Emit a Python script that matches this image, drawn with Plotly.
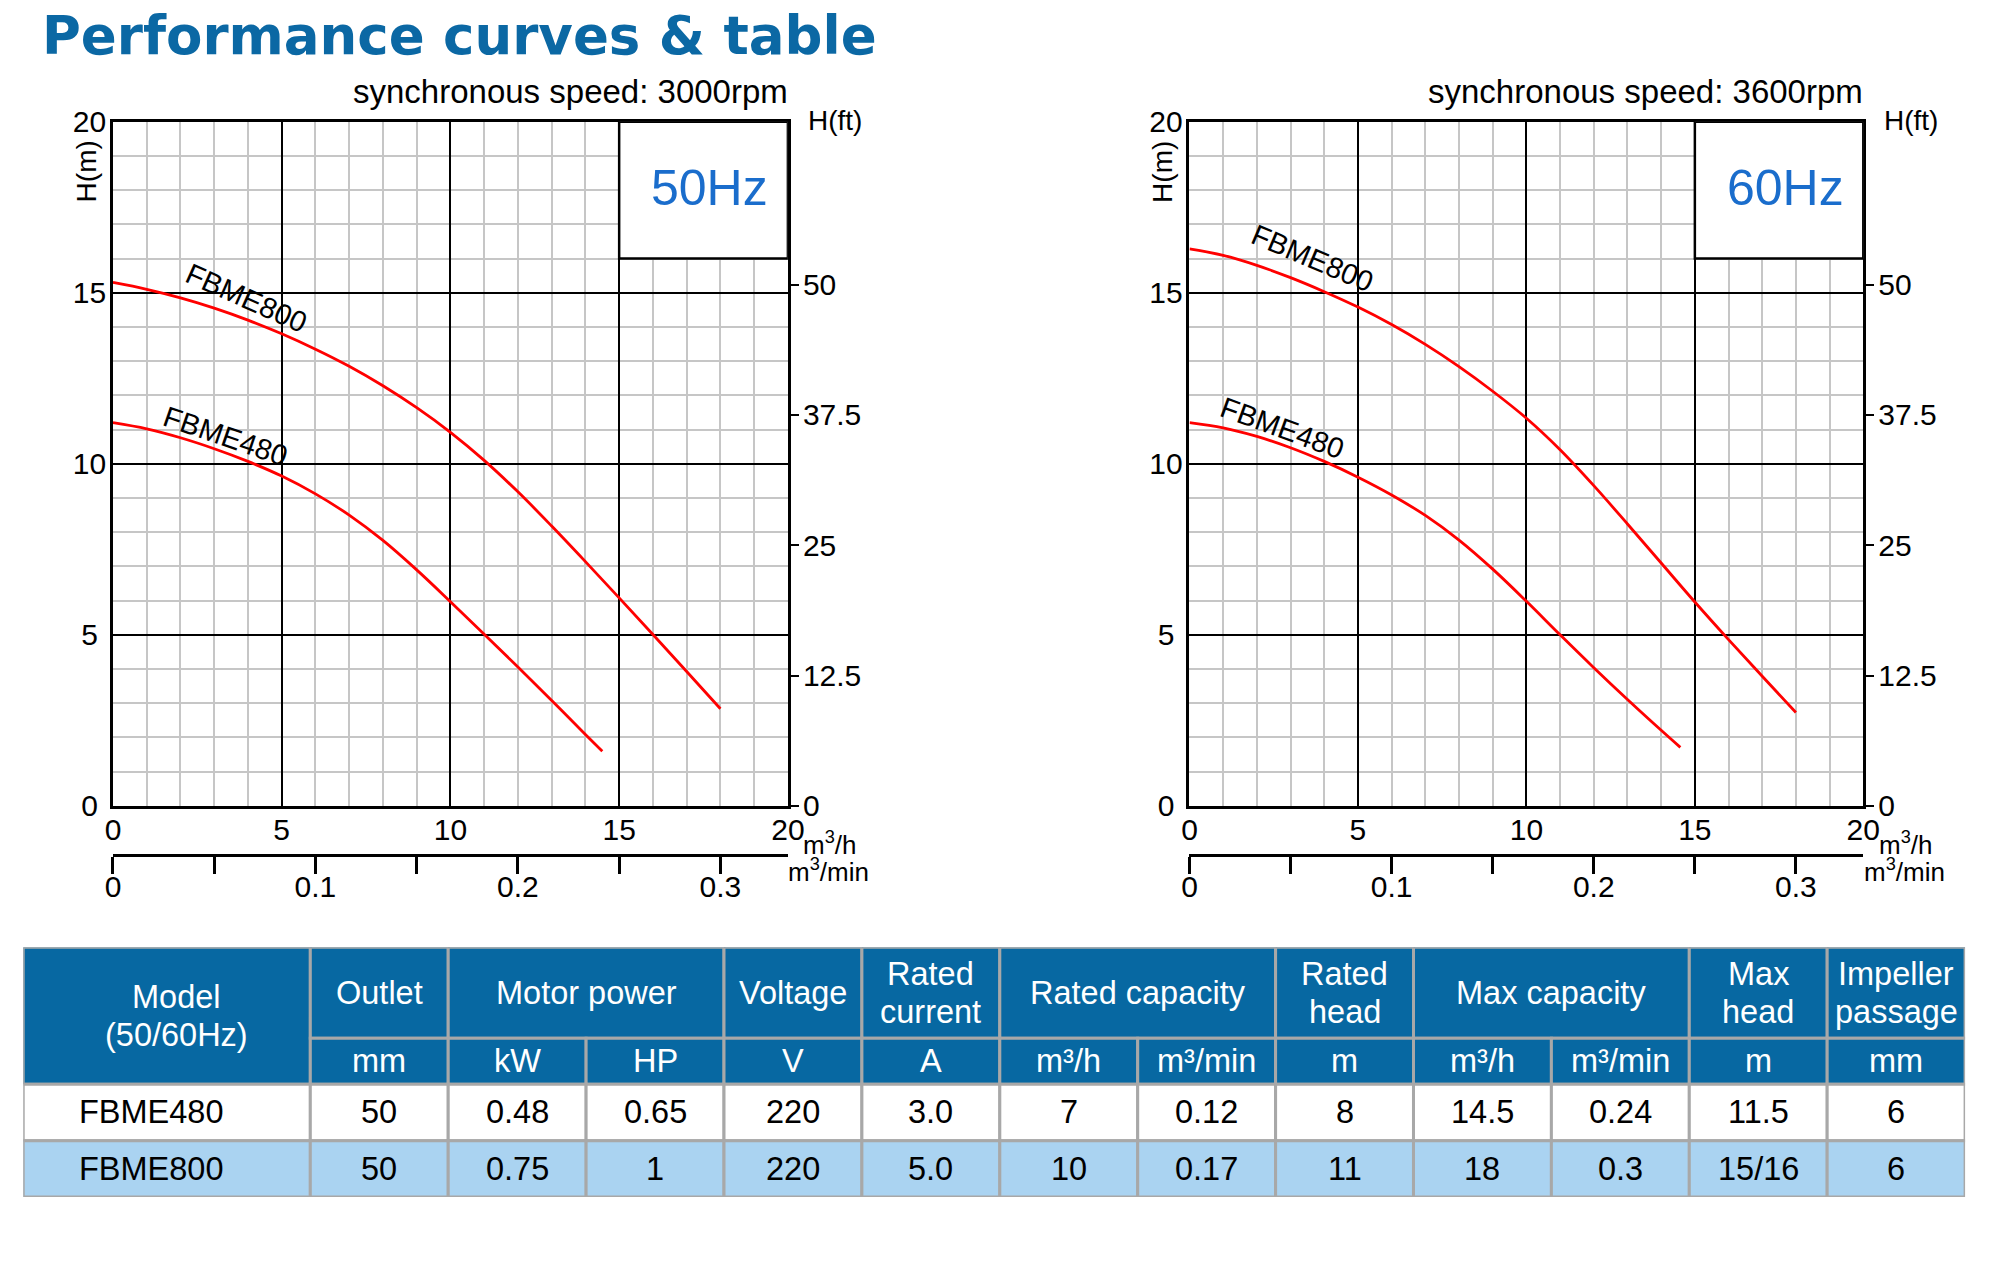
import plotly.graph_objects as go

# the page keeps its 8px body margin, so the figure is 16px smaller than the window
PAGE_W, PAGE_H, M = 1992, 1277, 8
W, H = PAGE_W - 2 * M, PAGE_H - 2 * M
FONT = "Liberation Sans, Arial, sans-serif"
BLUE = "#0b68a4"
RED = "#ff0000"

# ---- pump curves: flow (m3/h) vs head (m) ----
q800_50 = [0, 1, 2, 3, 4, 5, 6, 7, 8, 9, 10, 11, 12, 13, 14, 15, 16, 17, 18]
h800_50 = [15.3, 15.1, 14.85, 14.55, 14.2, 13.8, 13.35, 12.85, 12.28, 11.64,
           10.92, 10.1, 9.18, 8.18, 7.14, 6.08, 5.01, 3.93, 2.84]
q480_50 = [0, 1, 2, 3, 4, 5, 6, 7, 8, 9, 10, 11, 12, 13, 14, 14.5]
h480_50 = [11.2, 11.02, 10.76, 10.44, 10.07, 9.64, 9.12, 8.5, 7.76, 6.9,
           5.97, 5.02, 4.06, 3.08, 2.09, 1.6]
q800_60 = [0, 1, 2, 3, 4, 5, 6, 7, 8, 9, 10, 11, 12, 13, 14, 15, 16, 17, 18]
h800_60 = [16.28, 16.09, 15.8, 15.44, 15.03, 14.58, 14.07, 13.49, 12.84, 12.12,
           11.33, 10.41, 9.36, 8.24, 7.1, 5.96, 4.86, 3.79, 2.73]
q480_60 = [0, 1, 2, 3, 4, 5, 6, 7, 8, 9, 10, 11, 12, 13, 14, 14.57]
h480_60 = [11.2, 11.05, 10.8, 10.47, 10.07, 9.61, 9.09, 8.49, 7.77, 6.92,
           5.98, 5.0, 4.04, 3.11, 2.21, 1.71]

# axis ticks
h_ticks = [0, 5, 10, 15, 20]
ft_ticks = [0, 12.5, 25, 37.5, 50]
min_ticks = [0, 0.1, 0.2, 0.3]

# ---- table ----
header_top = [["Model", "(50/60Hz)"], ["Outlet"], ["Motor power"], ["Voltage"],
              ["Rated", "current"], ["Rated capacity"], ["Rated", "head"],
              ["Max capacity"], ["Max", "head"], ["Impeller", "passage"]]
header_span = [1, 1, 2, 1, 1, 2, 1, 2, 1, 1]
units = ["mm", "kW", "HP", "V", "A", "m³/h", "m³/min", "m", "m³/h", "m³/min", "m", "mm"]
models = ["FBME480", "FBME800"]
outlet_mm = ["50", "50"]
power_kw = ["0.48", "0.75"]
power_hp = ["0.65", "1"]
voltage_v = ["220", "220"]
current_a = ["3.0", "5.0"]
rated_q_m3h = ["7", "10"]
rated_q_m3min = ["0.12", "0.17"]
rated_head_m = ["8", "11"]
max_q_m3h = ["14.5", "18"]
max_q_m3min = ["0.24", "0.3"]
max_head_m = ["11.5", "15/16"]
impeller_mm = ["6", "6"]
columns = [models, outlet_mm, power_kw, power_hp, voltage_v, current_a,
           rated_q_m3h, rated_q_m3min, rated_head_m, max_q_m3h, max_q_m3min,
           max_head_m, impeller_mm]


# target positions are given in picture pixels; the photo shows the page slightly
# shrunk and shifted, so undo that before turning them into paper fractions
def pxx(t):
    return ((t - 8.5) / 0.9866 - M) / W


def pxy(t):
    return (H - ((t - 14.3) / 0.9755 - M)) / H


fig = go.Figure()

panels = [
    dict(xa="x", ya="y", fa="y2", ma="x2", x0=113.3, x1=787.7, hz="50Hz", rpm="3000",
         curves=[(q800_50, h800_50), (q480_50, h480_50)],
         labels=[("FBME800", 3.95, 14.85, 24), ("FBME480", 3.32, 10.8, 19)]),
    dict(xa="x3", ya="y3", fa="y4", ma="x4", x0=1189.0, x1=1862.3, hz="60Hz", rpm="3600",
         curves=[(q800_60, h800_60), (q480_60, h480_60)],
         labels=[("FBME800", 3.64, 16.01, 23), ("FBME480", 2.75, 11.06, 20)]),
]

ydom = [pxy(805), pxy(119)]
tickfont = dict(family=FONT, size=30, color="black")
# pad single digits so the left labels sit centred like the original
h_text = [f"{t}" if t >= 10 else f"{t}\u2008" for t in h_ticks]

for p in panels:
    xdom = [pxx(p["x0"]), pxx(p["x1"])]
    for q, h in p["curves"]:
        fig.add_trace(go.Scatter(x=q, y=h, mode="lines", xaxis=p["xa"], yaxis=p["ya"],
                                 line=dict(color=RED, width=2.8, shape="spline"),
                                 hoverinfo="skip"))
    # invisible trace so the secondary axes get drawn
    fig.add_trace(go.Scatter(x=[0], y=[0], mode="markers", marker=dict(opacity=0),
                             xaxis=p["ma"], yaxis=p["fa"], hoverinfo="skip"))
    n = "" if p["xa"] == "x" else p["xa"][1:]
    m = p["ma"][1:]
    ny = "" if p["ya"] == "y" else p["ya"][1:]
    fy = p["fa"][1:]
    fig.update_layout({
        f"xaxis{n}": dict(domain=xdom, range=[0, 20], anchor=p["ya"], dtick=5,
                          showgrid=True, gridcolor="black", gridwidth=2,
                          minor=dict(dtick=1, showgrid=True, gridcolor="#c6c6c6", gridwidth=1.5),
                          showline=True, linecolor="black", linewidth=2.5, mirror=True,
                          zeroline=False, ticks="", tickfont=tickfont, ticklabelstandoff=-5,
                          fixedrange=True),
        f"yaxis{ny}": dict(domain=ydom, range=[0, 20], anchor=p["xa"], tickvals=h_ticks,
                           ticktext=h_text,
                           showgrid=True, gridcolor="black", gridwidth=2,
                           minor=dict(dtick=1, showgrid=True, gridcolor="#c6c6c6", gridwidth=1.5),
                           showline=True, linecolor="black", linewidth=2.5, mirror=True,
                           zeroline=False, ticks="", tickfont=tickfont, ticklabelstandoff=-2,
                           fixedrange=True),
        f"yaxis{fy}": dict(overlaying=p["ya"], anchor=p["xa"], side="right",
                           range=[0, 20 / 0.3048], tickvals=ft_ticks,
                           ticktext=[f"{t:g}" for t in ft_ticks],
                           ticks="outside", ticklen=10, tickwidth=2, tickcolor="black",
                           showgrid=False, zeroline=False, showline=False,
                           tickfont=tickfont, ticklabelstandoff=-2, fixedrange=True),
        f"xaxis{m}": dict(overlaying=p["xa"], anchor="free", position=pxy(854),
                          side="bottom", range=[0, 20 / 60], tickvals=min_ticks,
                          ticktext=[f"{t:g}" for t in min_ticks],
                          ticks="outside", ticklen=17, tickwidth=2.5, tickcolor="black",
                          minor=dict(dtick=0.05, tick0=0, ticks="outside", ticklen=17,
                                     tickwidth=2.5, tickcolor="black", showgrid=False),
                          showline=True, linecolor="black", linewidth=2.5,
                          showgrid=False, zeroline=False, tickfont=tickfont,
                          ticklabelstandoff=-13, fixedrange=True),
    })
    # frequency box in the top-right corner
    fig.add_shape(type="rect", xref=p["xa"], yref=p["ya"], x0=15, x1=20, y0=16, y1=20,
                  fillcolor="white", line=dict(color="black", width=2.5), layer="above")
    fig.add_annotation(xref=p["xa"], yref=p["ya"], x=17.68, y=18.05, text=p["hz"],
                       showarrow=False, font=dict(family=FONT, size=50, color="#1a6dcc"))
    for txt, lx, ly, ang in p["labels"]:
        fig.add_annotation(xref=p["xa"], yref=p["ya"], x=lx, y=ly, text=txt, textangle=ang,
                           showarrow=False, font=dict(family=FONT, size=29, color="black"))
    off = p["x0"] - 113.3
    for txt, x, y, size, anchor, ang in [
        (f"synchronous speed: {p['rpm']}rpm", p["x1"] + 2.1, 88.3, 33, "right", 0),
        ("H(ft)", 805.7 + off, 117.9, 28, "left", 0),
        ("H(m)", 87 + off, 169.2, 28, "center", -90),
        ("m<sup>3</sup>/h", 829 + off, 843.1, 26, "center", 0),
        ("m<sup>3</sup>/min", 828 + off, 869.9, 26, "center", 0),
    ]:
        fig.add_annotation(xref="paper", yref="paper", x=pxx(x), y=pxy(y), text=txt,
                           textangle=ang, xanchor=anchor, yanchor="middle", showarrow=False,
                           font=dict(family=FONT, size=size, color="black"))

# title
fig.add_annotation(xref="paper", yref="paper", x=pxx(40.2), y=pxy(33.1), xanchor="left",
                   yanchor="middle", text="<b>Performance curves & table</b>", showarrow=False,
                   font=dict(family="DejaVu Sans, sans-serif", size=53, color=BLUE))

# ---- table drawn on its own hidden axis pair ----
col_w = [2.082] + [1] * 12
row_h = [91.3, 46, 56.7, 56.3]
edges = [0]
for w in col_w:
    edges.append(edges[-1] + w)
rows = [0]
for h in row_h:
    rows.append(rows[-1] + h)

fig.add_trace(go.Scatter(x=[0], y=[0], mode="markers", marker=dict(opacity=0),
                         xaxis="x5", yaxis="y5", hoverinfo="skip"))
fig.update_layout(
    xaxis5=dict(domain=[pxx(23.6), pxx(1964)], range=[0, edges[-1]], visible=False,
                anchor="y5", fixedrange=True),
    yaxis5=dict(domain=[pxy(1197), pxy(946.7)], range=[rows[-1], 0], visible=False,
                anchor="x5", fixedrange=True),
)

GRID = "#a8a8a8"
HEAD = "#0768a2"
ROWFILL = ["white", "#aad3f1"]


def cell(c0, c1, r0, r1, fill):
    fig.add_shape(type="rect", xref="x5", yref="y5", x0=edges[c0], x1=edges[c1],
                  y0=rows[r0], y1=rows[r1], fillcolor=fill,
                  line=dict(color=GRID, width=3), layer="above")


def text(x, y, s, color, xshift=0):
    fig.add_annotation(xref="x5", yref="y5", x=x, y=y, text=s, showarrow=False,
                       xshift=xshift, font=dict(family=FONT, size=32.5, color=color))


# top header row (Model spans both header rows)
c = 0
for i, (lines, span) in enumerate(zip(header_top, header_span)):
    r1 = 2 if i == 0 else 1
    cell(c, c + span, 0, r1, HEAD)
    xc = (edges[c] + edges[c + span]) / 2
    yc = (rows[0] + rows[r1]) / 2
    gap = 19 if len(lines) > 1 else 0
    for k, s in enumerate(lines):
        yy = yc - gap + 2 * gap * k if len(lines) > 1 else yc
        text(xc, yy, s, "white", xshift=10 if i == 0 else 0)
    c += span

# units row
for j, u in enumerate(units, start=1):
    cell(j, j + 1, 1, 2, HEAD)
    text((edges[j] + edges[j + 1]) / 2, (rows[1] + rows[2]) / 2, u, "white")

# data rows
for r in range(len(models)):
    for j, col in enumerate(columns):
        cell(j, j + 1, 2 + r, 3 + r, ROWFILL[r])
        text((edges[j] + edges[j + 1]) / 2, (rows[2 + r] + rows[3 + r]) / 2, col[r],
             "black", xshift=-15 if j == 0 else 0)

fig.update_layout(width=W, height=H, margin=dict(l=0, r=0, t=0, b=0),
                  paper_bgcolor="white", plot_bgcolor="white", showlegend=False)

fig.write_html("out.html", config={"displayModeBar": False})
